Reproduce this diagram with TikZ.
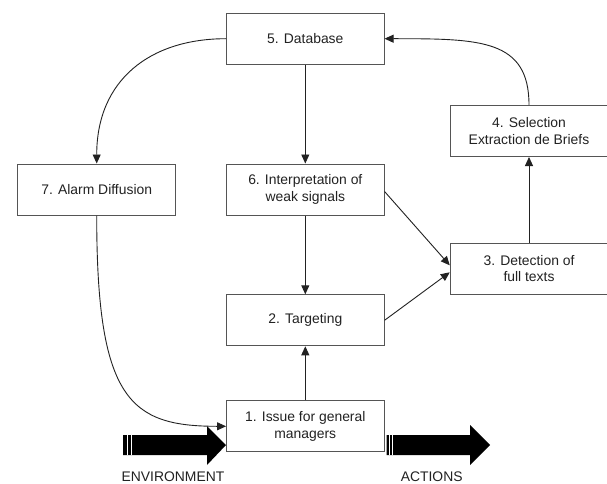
\documentclass[tikz,border=0pt]{standalone}
\usepackage{fontspec}
\setmainfont{Liberation Sans}
\usetikzlibrary{arrows.meta}
\definecolor{boxline}{HTML}{555555}
\definecolor{txt}{HTML}{222222}
\begin{document}
\begin{tikzpicture}[x=1pt,y=1pt,
  box/.style={draw=boxline, line width=1pt, fill=white, minimum width=157.5pt, minimum height=51pt, inner sep=0pt, align=center, font=\fontsize{13.9}{16.3}\selectfont, text=txt},
  conn/.style={draw=txt, line width=0.9pt, -{Triangle[length=9pt,width=8pt]}},
  lbl/.style={font=\fontsize{13.9}{16.3}\selectfont, text=txt, inner sep=0pt, anchor=base},
  bigarrow/.style={fill=black}]
\useasboundingbox (0,0) rectangle (607,483);
\fill[white] (0,0) rectangle (607,483);

\node[box] (db) at (305.3,444.3) {5. Database};
\node[box] (alarm) at (96.7,293.5) {7. Alarm Diffusion};
\node[box] (interp) at (305.3,293.5) {6. Interpretation of\\weak signals};
\node[box] (sel) at (529,352) {4. Selection\\Extraction de Briefs};
\node[box] (det) at (529,214.2) {3. Detection of\\full texts};
\node[box] (target) at (305.3,162.7) {2. Targeting};
\node[box] (issue) at (305.3,56.7) {1. Issue for general\\managers};

\draw[conn] (db.west) .. controls (150,444.3) and (96.7,403) .. (alarm.north);
\draw[conn] (sel.north) .. controls (529,444) and (480,444.3) .. (db.east);
\draw[conn] (alarm.south) .. controls (96.7,83) and (130,56.7) .. (issue.west);
\draw[conn] (db) -- (interp);
\draw[conn] (interp) -- (target);
\draw[conn] (issue) -- (target);
\draw[conn] (det) -- (sel);
\draw[conn] ([yshift=-2pt]interp.east) -- ([yshift=3.5pt]det.west);
\draw[conn] (target.east) -- ([yshift=-3.5pt]det.west);

% big arrows
\fill[bigarrow] (123,28) -- (207,28) -- (207,18) -- (226,38) -- (207,57) -- (207,48) -- (123,48) -- cycle;
\fill[white] (127,28) rectangle (128,48);
\fill[white] (130.5,28) rectangle (131.5,48);
\fill[bigarrow] (386.7,28) -- (470,28) -- (470,18) -- (490,38) -- (470,58) -- (470,48) -- (386.7,48) -- cycle;
\fill[white] (389,28) rectangle (390,48);
\fill[white] (392.3,28) rectangle (393.3,48);

\node[lbl] (env) at (173,2) {ENVIRONMENT};
\node[lbl] (act) at (431.7,2) {ACTIONS};
\end{tikzpicture}
\end{document}
